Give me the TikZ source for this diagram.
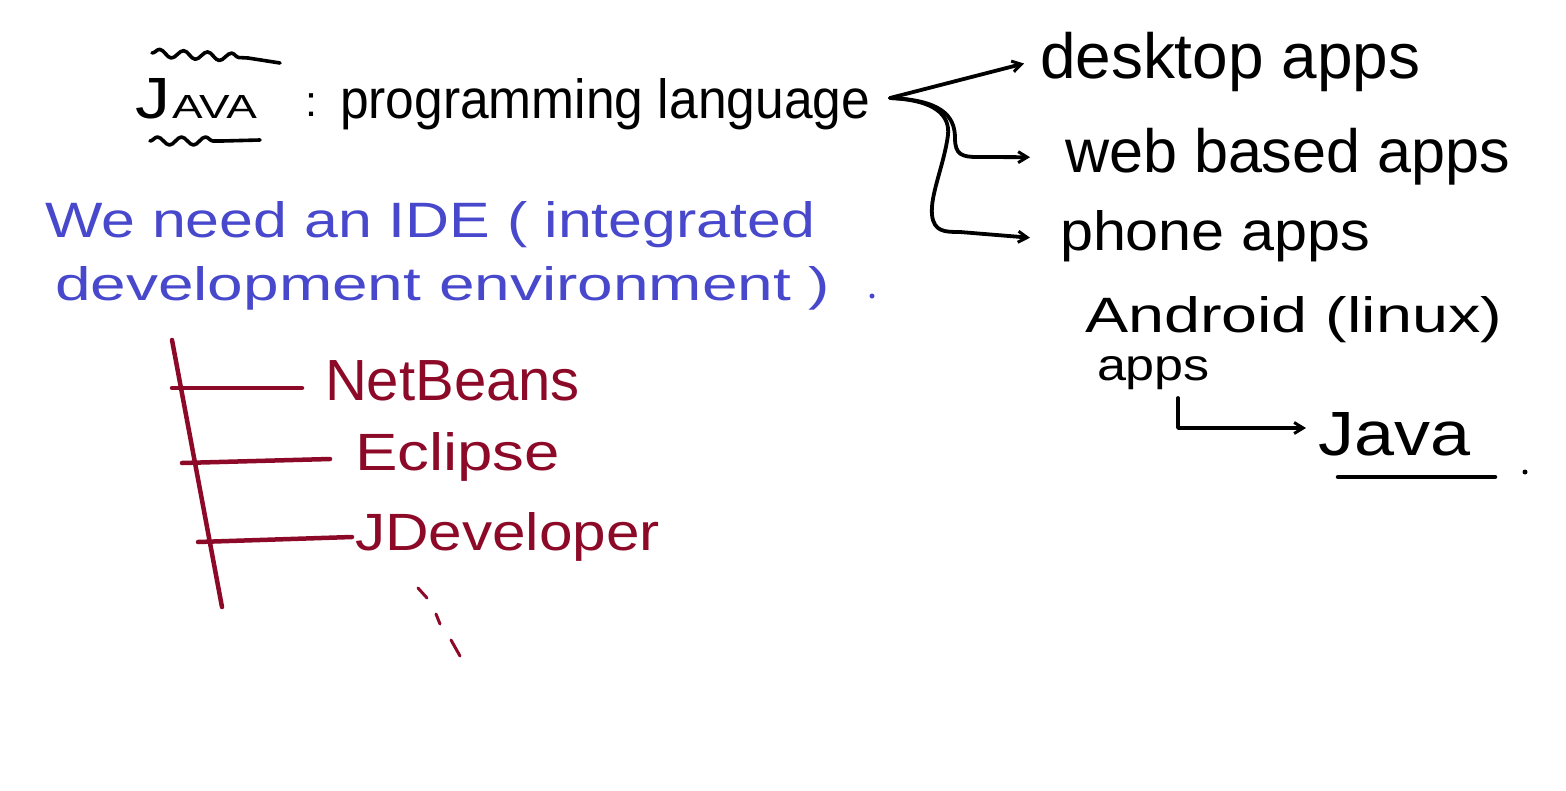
\documentclass[tikz,border=0pt]{standalone}
\usepackage{fontspec}
\setmainfont{Liberation Sans}
\usetikzlibrary{arrows.meta,decorations.pathmorphing}
\definecolor{inkblue}{RGB}{72,72,205}
\definecolor{inkred}{RGB}{140,10,40}
\begin{document}
\begin{tikzpicture}[x=1pt,y=-1pt,
  txt/.style={anchor=base west,inner sep=0pt,outer sep=0pt},
  inkpen/.style={line width=4.5pt,line cap=round,line join=round},
  arr/.style={inkpen,line width=3.8pt,-{Straight Barb[length=9pt,width=11pt,line width=3pt]}},
  wavy/.style={inkpen,line width=3.6pt,decorate,decoration={snake,amplitude=4pt,segment length=24pt}}]
\fill[white] (0,0) rectangle (1566,790);
\useasboundingbox (0,0) rectangle (1566,790);

% ---- Java : programming language
\node[txt] (java) at (135,118) {\resizebox{35pt}{40pt}{J}\hspace{2pt}\resizebox{85pt}{23pt}{AVA}};
\draw[wavy] (152,53) -- (248,58);
\draw[inkpen,line width=3.6pt] (248,58) -- (280,63);
\draw[wavy] (150,141) -- (222,141);
\draw[inkpen,line width=3.6pt] (222,141) -- (260,140);
\node[txt] (colon) at (305,116) {\resizebox{12pt}{!}{:}};
\node[txt] (lang) at (340,118) {\resizebox{530pt}{40pt}{programming language}};

% ---- branches
\coordinate (src) at (890,98);
\node[txt] (desk) at (1040,78) {\resizebox{380pt}{!}{desktop apps}};
\node[txt] (web) at (1065,172) {\resizebox{445pt}{!}{web based apps}};
\node[txt] (phone) at (1060,250) {\resizebox{310pt}{40pt}{phone apps}};
\draw[arr] (src) -- ([xshift=-16pt,yshift=-2pt]desk.west);
\draw[arr] (src) .. controls (940,100) and (955,115) .. (955,138)
  .. controls (955,155) and (962,157) .. (978,157) -- ([xshift=-35pt,yshift=-1pt]web.west);
\draw[arr] (src) .. controls (935,100) and (950,115) .. (948,135)
  .. controls (944,165) and (930,195) .. (932,215)
  .. controls (934,232) and (945,232) .. (960,232) -- ([xshift=-30pt,yshift=-2pt]phone.west);

% ---- Android
\node[txt] (android) at (1085,332) {\resizebox{417pt}{36pt}{Android (linux)}};
\node[txt] (apps) at (1097,380) {\resizebox{113pt}{24pt}{apps}};
\node[txt] (java2) at (1318,455) {\resizebox{152pt}{43pt}{Java}};
\coordinate (appsfoot) at (1178,398);
\draw[arr] (appsfoot) -- (1178,428) -- ([xshift=-12pt]java2.west |- 0,428);
\draw[inkpen] (1338,477) -- (1495,477);
\fill (1525,472) circle (2.5pt);

% ---- IDE
\node[txt,text=inkblue] (ide1) at (45,237) {\resizebox{770pt}{36pt}{We need an IDE ( integrated}};
\node[txt,text=inkblue] (ide2) at (55,300) {\resizebox{775pt}{34pt}{development environment )}};
\fill[inkblue] (872,296) circle (2.5pt);

% ---- tree
\begin{scope}[inkred]
\node[txt,text=inkred] (nb) at (325,400) {\resizebox{255pt}{!}{NetBeans}};
\node[txt,text=inkred] (ec) at (355,470) {\resizebox{205pt}{38pt}{Eclipse}};
\node[txt,text=inkred] (jd) at (355,550) {\resizebox{305pt}{38pt}{JDeveloper}};
\coordinate (top) at (172,340);
\coordinate (bot) at (222,607);
\draw[inkpen] (top) -- (bot);
\draw[inkpen] (172,388) -- ([xshift=-23pt]nb.west |- 0,388);
\draw[inkpen] (182,463) -- ([xshift=-25pt]ec.west |- 0,459);
\draw[inkpen] (198,542) -- (352,537);
\draw[inkpen,line width=3pt] (418,588) -- (427,598);
\draw[inkpen,line width=3pt] (436,614) -- (440,624);
\draw[inkpen,line width=3pt] (451,640) -- (460,656);
\end{scope}
\end{tikzpicture}
\end{document}
